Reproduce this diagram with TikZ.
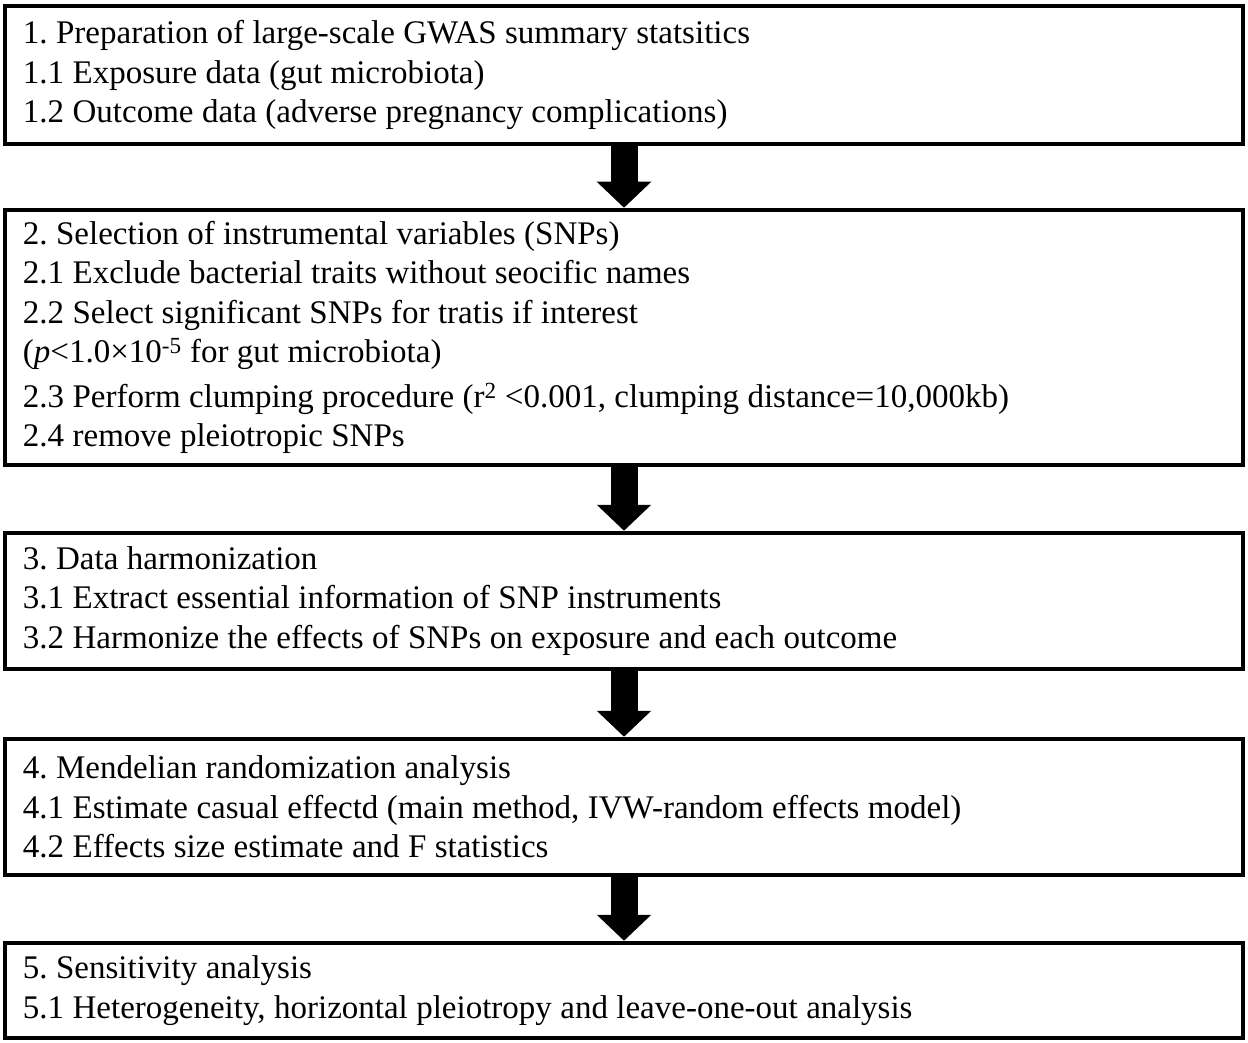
\documentclass[tikz,border=0pt]{standalone}
\usepackage{fontspec}
\setmainfont{Liberation Serif}
\usetikzlibrary{arrows.meta}
\frenchspacing
\newcommand\mytightspaces{\setlength{\spaceskip}{8.4pt plus 1pt minus 1pt}}
\begin{document}
\begin{tikzpicture}[x=1pt,y=-1pt,
  stagebox/.style={draw=black, line width=4.5pt, fill=white, align=left,
    text width=1202pt, inner xsep=18pt, inner ysep=0pt, minimum width=1238pt,
    font=\fontsize{33pt}{39.5pt}\selectfont,
    execute at begin node=\mytightspaces},
  flowarrow/.style={line width=27pt, -{Triangle[width=53pt,length=26pt]}}]
\useasboundingbox (0,0) rectangle (1248,1043);
\node[stagebox, minimum height=138pt] (b1) at (624,75) {1. Preparation of large-scale GWAS summary statsitics\\
1.1 Exposure data (gut microbiota)\\
1.2 Outcome data (adverse pregnancy complications)};
\node[stagebox, minimum height=255pt] (b2) at (624,337.5) {2. Selection of instrumental variables (SNPs)\\
2.1 Exclude bacterial traits without seocific names\\
2.2 Select significant SNPs for tratis if interest\\
(\textit{p}<1.0×10\textsuperscript{-5} for gut microbiota)\\[5pt]
2.3 Perform clumping procedure (r\textsuperscript{2} <0.001, clumping distance=10,000kb)\\
2.4 remove pleiotropic SNPs};
\node[stagebox, minimum height=136pt] (b3) at (624,601) {3. Data harmonization\\
3.1 Extract essential information of SNP instruments\\
3.2 Harmonize the effects of SNPs on exposure and each outcome};
\node[stagebox, minimum height=136pt] (b4) at (624,807) {4. Mendelian randomization analysis\\
4.1 Estimate casual effectd (main method, IVW-random effects model)\\
4.2 Effects size estimate and F statistics};
\node[stagebox, minimum height=95pt] (b5) at (624,990.5) {5. Sensitivity analysis\\
5.1 Heterogeneity, horizontal pleiotropy and leave-one-out analysis};
\draw[flowarrow] (b1.south) -- (b2.north);
\draw[flowarrow] (b2.south) -- (b3.north);
\draw[flowarrow] (b3.south) -- (b4.north);
\draw[flowarrow] (b4.south) -- (b5.north);
\end{tikzpicture}
\end{document}
